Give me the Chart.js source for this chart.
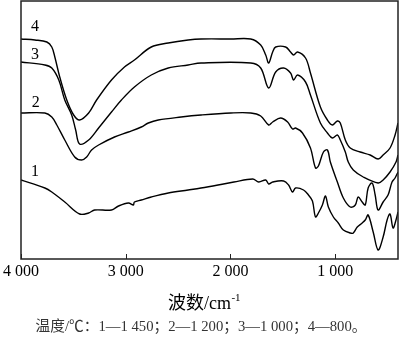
<!DOCTYPE html>
<html>
<head>
<meta charset="utf-8">
<script src="https://cdn.jsdelivr.net/npm/chart.js@4/dist/chart.umd.min.js"></script>
<style>
  html, body { margin: 0; padding: 0; background: #fff; }
  #wrap { width: 400px; height: 337px; }
</style>
</head>
<body>
<div id="wrap"><canvas id="ir" width="400" height="337"></canvas></div>
<script>
// IR spectra, wavenumber (cm-1) vs transmittance (arbitrary, offset curves)
const xTicks = [4000, 3000, 2000, 1000];
const curveLabels = ['1', '2', '3', '4'];

// curve 1 (1 450 C)
const wn1 = [4000, 3772, 3706, 3582, 3440, 3354, 3297, 3136, 3069, 2974, 2927, 2917, 2851, 2756, 2594, 2404, 2281, 2119, 1967, 1787, 1730, 1663, 1635, 1597, 1492, 1445, 1407, 1378, 1302, 1255, 1217, 1188, 1160, 1122, 1093, 1065, 1017, 970, 922, 856, 827, 789, 742, 713, 685, 637, 590, 542, 504, 476, 447, 419, 400];
const tr1 = [79, 71, 67, 57, 45, 46, 49, 49, 53, 56, 54, 57, 59, 62, 66, 69, 71, 74, 77, 80, 77, 79, 75, 77, 78, 74, 67, 71, 69, 64, 58, 42, 46, 54, 63, 52, 42, 36, 29, 26, 26, 32, 36, 39, 44, 27, 9, 22, 39, 45, 31, 39, 47];

// curve 2 (1 200 C)
const wn2 = [4000, 3772, 3706, 3658, 3582, 3487, 3421, 3373, 3326, 3259, 3107, 2974, 2851, 2784, 2689, 2471, 2281, 1996, 1806, 1711, 1635, 1597, 1521, 1454, 1407, 1378, 1312, 1236, 1188, 1160, 1112, 1074, 1046, 979, 922, 856, 808, 780, 742, 713, 685, 647, 618, 590, 542, 495, 457, 428, 400];
const tr2 = [146, 146, 142, 134, 119, 102, 99, 102, 109, 114, 122, 127, 132, 136, 139, 142, 144, 146, 146, 143, 134, 137, 141, 137, 130, 131, 126, 111, 91, 93, 107, 109, 97, 77, 61, 52, 54, 62, 57, 54, 71, 76, 64, 49, 57, 64, 77, 81, 87];

// curve 3 (1 000 C)
const wn3 = [4000, 3772, 3706, 3639, 3582, 3516, 3478, 3440, 3354, 3259, 3136, 3041, 2917, 2756, 2594, 2404, 2281, 1806, 1711, 1635, 1568, 1492, 1426, 1397, 1359, 1283, 1236, 1141, 1074, 1027, 979, 951, 903, 875, 827, 732, 590, 542, 476, 419, 400];
const tr3 = [197, 194, 191, 179, 159, 144, 129, 115, 119, 131, 147, 159, 172, 184, 191, 194, 196, 196, 191, 171, 187, 191, 186, 179, 184, 177, 164, 136, 126, 121, 124, 119, 107, 97, 89, 82, 76, 79, 87, 97, 104];

// curve 4 (800 C)
const wn4 = [4000, 3867, 3753, 3706, 3677, 3630, 3563, 3497, 3440, 3354, 3278, 3136, 3012, 2917, 2756, 2594, 2404, 2281, 1996, 1806, 1711, 1663, 1635, 1597, 1568, 1473, 1426, 1397, 1359, 1283, 1236, 1141, 1074, 1027, 979, 951, 903, 856, 761, 666, 590, 542, 476, 428, 400];
const tr4 = [220, 219, 217, 212, 202, 182, 159, 144, 139, 146, 159, 179, 192, 199, 212, 216, 219, 220, 220, 220, 214, 204, 196, 207, 212, 212, 207, 204, 207, 201, 186, 152, 139, 134, 138, 136, 119, 111, 107, 104, 100, 104, 111, 124, 136];

// where the curve numbers sit: [wavenumber, value]
const labelPos = [[3867, 87], [3858, 156], [3867, 204], [3867, 232]];

const serif = "'Liberation Serif', 'Times New Roman', 'Noto Sans CJK SC', serif";

function zip(xs, ys){ return xs.map((x, i) => ({ x: x, y: ys[i] })); }

function mkSet(xs, ys){
    return {
        data: zip(xs, ys),
        borderColor: '#000',
        borderWidth: 1.4,
        pointRadius: 0,
        fill: false,
        tension: 0.35
    };
}

// frame, inward ticks, curve numbers, axis title and caption
const decor = {
    id: 'decor',
    afterDraw(chart){
        const ctx = chart.ctx;
        const a = chart.chartArea;
        const xs = chart.scales.x, ys = chart.scales.y;
        ctx.save();
        ctx.strokeStyle = '#222';
        ctx.lineWidth = 1.5;
        ctx.strokeRect(a.left, a.top, a.right - a.left, a.bottom - a.top);
        ctx.lineWidth = 1;
        xTicks.forEach(v => {
            const px = Math.round(xs.getPixelForValue(v)) + 0.5;
            ctx.beginPath();
            ctx.moveTo(px, a.bottom);
            ctx.lineTo(px, a.bottom - 5);
            ctx.stroke();
        });
        ctx.fillStyle = '#000';
        ctx.textAlign = 'center';
        ctx.textBaseline = 'middle';
        ctx.font = '16px ' + serif;
        labelPos.forEach((p, i) => {
            ctx.fillText(curveLabels[i], xs.getPixelForValue(p[0]), ys.getPixelForValue(p[1]));
        });
        // x axis title with superscript
        ctx.textBaseline = 'alphabetic';
        ctx.textAlign = 'left';
        ctx.font = '18px ' + serif;
        const main = '波数/cm';
        const wMain = ctx.measureText(main).width;
        ctx.font = '11px ' + serif;
        const wSup = ctx.measureText('-1').width;
        let x0 = 204 - (wMain + wSup) / 2;
        ctx.font = '18px ' + serif;
        ctx.fillText(main, x0, 309);
        ctx.font = '11px ' + serif;
        ctx.fillText('-1', x0 + wMain + 0.5, 301);
        // caption
        ctx.fillStyle = '#333';
        ctx.textAlign = 'center';
        ctx.font = '14.7px ' + serif;
        ctx.fillText('温度/℃：1—1 450；2—1 200；3—1 000；4—800。', 201, 331);
        ctx.restore();
    }
};

new Chart(document.getElementById('ir'), {
    type: 'line',
    data: {
        datasets: [mkSet(wn1, tr1), mkSet(wn2, tr2), mkSet(wn3, tr3), mkSet(wn4, tr4)]
    },
    options: {
        responsive: false,
        animation: false,
        layout: { padding: { left: 19, right: 2, top: 1, bottom: 0 } },
        plugins: { legend: { display: false }, tooltip: { enabled: false } },
        scales: {
            x: {
                type: 'linear',
                reverse: true,
                min: 400,
                max: 4000,
                afterBuildTicks: s => { s.ticks = xTicks.map(v => ({ value: v })); },
                afterFit: s => { s.height = 78; },
                grid: { display: false, drawTicks: false },
                border: { display: false },
                ticks: {
                    padding: 3,
                    color: '#000',
                    maxRotation: 0,
                    font: { family: serif, size: 16 },
                    callback: v => {
                        const s = String(v);
                        return s.length > 3 ? s.slice(0, s.length - 3) + ' ' + s.slice(-3) : s;
                    }
                }
            },
            y: { display: false, min: 0, max: 258 }
        }
    },
    plugins: [decor]
});
</script>
</body>
</html>
